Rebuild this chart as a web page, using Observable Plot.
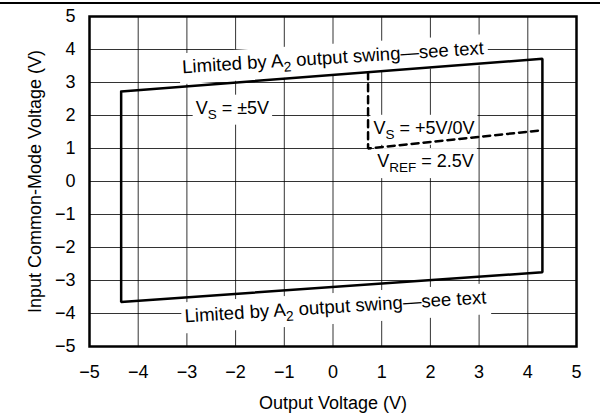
<!DOCTYPE html>
<html>
<head>
<meta charset="utf-8">
<script src="https://cdn.jsdelivr.net/npm/d3@7"></script>
<script src="https://cdn.jsdelivr.net/npm/@observablehq/plot@0.6"></script>
<style>
  html, body { margin: 0; padding: 0; background: #fff; }
  #wrap { position: relative; width: 600px; height: 417px; }
  #topline { position: absolute; left: 0; top: 2px; width: 600px; height: 0; border-top: 2px solid #000; }
</style>
</head>
<body>
<div id="wrap"><div id="topline"></div></div>
<script>
// Tick values
const xTicks = [-5, -4, -3, -2, -1, 0, 1, 2, 3, 4, 5];
const yTicks = [-5, -4, -3, -2, -1, 0, 1, 2, 3, 4, 5];

// V_S = ±5V operating region (closed outline)
const outerX = [-4.35, 4.3, 4.3, -4.35, -4.35];
const outerY = [2.73, 3.72, -2.75, -3.65, 2.73];

// V_S = +5V/0V, V_REF = 2.5V region boundary (dashed)
const dashX = [0.72, 0.72, 4.28];
const dashY = [3.31, 1.0, 1.55];

// Annotations
const labelText = [
  "Limited by A_{2} output swing\u2014see text",
  "Limited by A_{2} output swing\u2014see text",
  "V_{S} = \u00B15V",
  "V_{S} = +5V/0V",
  "V_{REF} = 2.5V"
];
const labelX = [0.0, 0.05, -2.82, 0.83, 0.91];
const labelY = [3.75, -3.8, 2.23, 1.62, 0.61];
const labelAnchor = ["middle", "middle", "start", "start", "start"];
const labelRotate = [-3.6, -3.6, 0, 0, 0];
const labelSize = [18.6, 18.6, 18, 18, 18];

const outer = outerX.map((x, i) => ({x, y: outerY[i]}));
const dashed = dashX.map((x, i) => ({x, y: dashY[i]}));
const labels = labelText.map((t, i) => ({t, x: labelX[i], y: labelY[i], a: labelAnchor[i], r: labelRotate[i], s: labelSize[i]}));

const fmt = d => d < 0 ? "\u2212" + (-d) : String(d);

const plot = Plot.plot({
  width: 600,
  height: 417,
  marginLeft: 89,
  marginRight: 24,
  marginTop: 16,
  marginBottom: 71,
  style: { fontFamily: "'Liberation Sans', Arial, sans-serif", fontSize: "18px", color: "#000", background: "transparent" },
  x: { domain: [-5, 5] },
  y: { domain: [-5, 5] },
  marks: [
    Plot.gridX(xTicks, { stroke: "#000", strokeOpacity: 0.8, strokeWidth: 1 }),
    Plot.gridY(yTicks, { stroke: "#000", strokeOpacity: 0.8, strokeWidth: 1 }),
    Plot.axisX(xTicks, { tickSize: 0, tickPadding: 19, tickFormat: fmt, fontSize: 18,
      label: "Output Voltage (V)", labelAnchor: "center", labelOffset: 62, labelArrow: "none" }),
    Plot.axisY(yTicks, { tickSize: 0, tickPadding: 14, tickFormat: fmt, fontSize: 18,
      label: "Input Common-Mode Voltage (V)", labelAnchor: "center", labelOffset: 61, labelArrow: "none" }),
    ...labels.map(l => Plot.text([l], { x: "x", y: "y", text: "t", textAnchor: l.a, rotate: l.r,
      fontSize: l.s, fill: "#000" })),
    Plot.line(outer, { x: "x", y: "y", stroke: "#000", strokeWidth: 2.5, strokeLinejoin: "miter" }),
    Plot.line(dashed, { x: "x", y: "y", stroke: "#000", strokeWidth: 2.5, strokeDasharray: "7,5", strokeLinejoin: "miter" }),
    Plot.frame({ stroke: "#000", strokeWidth: 2.5 })
  ]
});

document.getElementById("wrap").appendChild(plot);

// subscripts and white label backgrounds
const svgNS = "http://www.w3.org/2000/svg";
plot.querySelectorAll('g[aria-label="text"] text').forEach(text => {
  const s = text.textContent;
  if (s.includes("_{")) {
    while (text.firstChild) text.removeChild(text.firstChild);
    const parts = s.split(/(_\{[^}]*\})/);
    let shifted = false;
    parts.forEach(p => {
      if (!p) return;
      const ts = document.createElementNS(svgNS, "tspan");
      if (p.startsWith("_{")) {
        ts.textContent = p.slice(2, -1);
        ts.setAttribute("font-size", "75%");
        ts.setAttribute("dy", "5");
        shifted = true;
      } else {
        ts.textContent = p;
        if (shifted) { ts.setAttribute("dy", "-5"); shifted = false; }
      }
      text.appendChild(ts);
    });
  }
  const bb = text.getBBox();
  const rect = document.createElementNS(svgNS, "rect");
  rect.setAttribute("x", bb.x - 3);
  rect.setAttribute("y", bb.y - 3);
  rect.setAttribute("width", bb.width + 6);
  rect.setAttribute("height", bb.height + 6);
  rect.setAttribute("fill", "#fff");
  rect.setAttribute("stroke", "none");
  const tr = text.getAttribute("transform");
  if (tr) rect.setAttribute("transform", tr);
  text.parentNode.insertBefore(rect, text);
});
</script>
</body>
</html>
